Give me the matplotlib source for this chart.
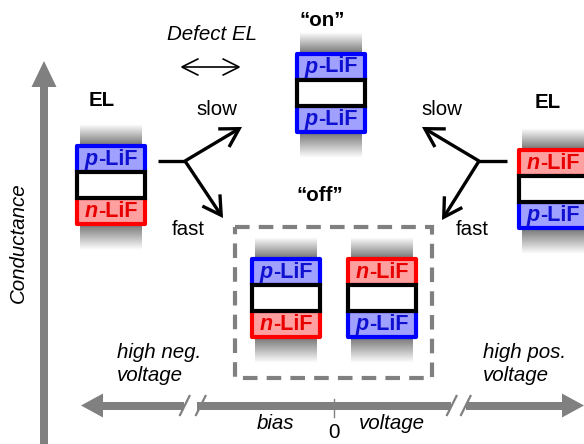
import numpy as np
import matplotlib
matplotlib.use('Agg')
import matplotlib.pyplot as plt
from matplotlib.patches import Rectangle, Polygon, FancyArrowPatch

plt.rcParams['font.family'] = ['Liberation Sans', 'DejaVu Sans']

# labels / layer types
top_layers = ['p', 'p', 'p', 'n', 'n']      # EL左, on, off左, off右, EL右
bottom_layers = ['n', 'p', 'n', 'p', 'p']
state_labels = ['\u201con\u201d', '\u201coff\u201d']
el_label = 'EL'
branch_labels = ['slow', 'fast']
defect_label = 'Defect EL'
side_labels = ['high neg.', 'voltage', 'high pos.', 'voltage']
bias_labels = ['bias', '0', 'voltage']
y_label = 'Conductance'

# layout (pixel coordinates)
device_xy = [(75, 144), (295, 52), (250, 257), (346, 257), (517, 148)]
W, H = 72, 82
styles = {
    'p': dict(edge='#0000ff', face='#a0a0ff', text='#1010d0'),
    'n': dict(edge='#ff0000', face='#ffa0a0', text='#e80000'),
}
gray = '#808080'
FS = 14.8

fig = plt.figure(figsize=(5.84, 4.44), dpi=100)
ax = fig.add_axes([0, 0, 1, 1])
ax.set_xlim(0, 584)
ax.set_ylim(444, 0)
ax.axis('off')
renderer = fig.canvas.get_renderer()


def gradient(x0, x1, y0, y1, fade_up):
    a = np.linspace(0, 0.95, 40)
    if not fade_up:
        a = a[::-1]
    img = np.zeros((40, 1, 4))
    img[..., :3] = 0.47
    img[:, 0, 3] = a
    ax.imshow(img, extent=(x0, x1, y1, y0), origin='upper', aspect='auto',
              interpolation='bilinear', zorder=1)


def layer_label(xc, yc, kind):
    st = styles[kind]
    t1 = ax.text(0, 0, kind, fontsize=15.5, fontweight='bold', fontstyle='italic',
                 color=st['text'], ha='left', va='center', zorder=5)
    t2 = ax.text(0, 0, '-LiF', fontsize=15.5, fontweight='bold',
                 color=st['text'], ha='left', va='center', zorder=5)
    w1 = t1.get_window_extent(renderer).width
    w2 = t2.get_window_extent(renderer).width
    x = xc - (w1 + w2) / 2
    t1.set_position((x, yc))
    t2.set_position((x + w1, yc))


def device(x, y, top, bot):
    gradient(x + 5, x + W - 5, y - 20, y, True)
    gradient(x + 5, x + W - 5, y + H, y + H + 24, False)
    px, py, pw = x + 2, y + 2, W - 4
    lh = (H - 4) / 3
    for kind, yy in [(top, py), (bot, py + 2 * lh)]:
        st = styles[kind]
        ax.add_patch(Rectangle((px, yy), pw, lh, facecolor=st['face'],
                               edgecolor=st['edge'], lw=3, joinstyle='round', zorder=3))
    ax.add_patch(Rectangle((px, py + lh), pw, lh, facecolor='white',
                           edgecolor='black', lw=3, zorder=4))
    layer_label(x + W / 2, py + lh / 2, top)
    layer_label(x + W / 2, py + 2.5 * lh, bot)


for (x, y), t, b in zip(device_xy, top_layers, bottom_layers):
    device(x, y, t, b)

# off の破線枠
ax.add_patch(Rectangle((235, 227), 197, 151, fill=False, edgecolor=gray,
                       lw=3, linestyle=(0, (3.5, 2.2)), zorder=2))

# 分岐矢印
def arrow(p0, p1, style, lw, ms=20):
    ax.add_patch(FancyArrowPatch(p0, p1, arrowstyle=style, mutation_scale=ms,
                                 lw=lw, color='black', shrinkA=0, shrinkB=0,
                                 joinstyle='miter', capstyle='butt', zorder=6))

head = '->,head_length=0.65,head_width=0.38'
ax.plot([158, 186], [161, 161], color='black', lw=2.4, solid_capstyle='butt')
arrow((185, 161), (242, 127), head, 2.4)
arrow((185, 161), (223, 218), head, 2.4)
ax.plot([507, 478], [161, 161], color='black', lw=2.4, solid_capstyle='butt')
arrow((479, 161), (422, 127), head, 2.4)
arrow((479, 161), (442, 220), head, 2.4)

# Defect EL
arrow((180, 67), (241, 67), '<->,head_length=0.6,head_width=0.3', 1.2)
ax.text(212, 34, defect_label, fontsize=FS, fontstyle='italic', ha='center', va='center')

# テキスト
ax.text(102, 100, el_label, fontsize=FS, fontweight='bold', ha='center', va='center')
ax.text(548, 102, el_label, fontsize=FS, fontweight='bold', ha='center', va='center')
ax.text(322, 20, state_labels[0], fontsize=FS, fontweight='bold', ha='center', va='center')
ax.text(320, 195, state_labels[1], fontsize=FS, fontweight='bold', ha='center', va='center')
ax.text(217, 109, branch_labels[0], fontsize=FS, ha='center', va='center')
ax.text(188, 229, branch_labels[1], fontsize=FS, ha='center', va='center')
ax.text(442, 109, branch_labels[0], fontsize=FS, ha='center', va='center')
ax.text(472, 229, branch_labels[1], fontsize=FS, ha='center', va='center')
ax.text(117, 352, side_labels[0], fontsize=FS, fontstyle='italic', ha='left', va='center')
ax.text(117, 375, side_labels[1], fontsize=FS, fontstyle='italic', ha='left', va='center')
ax.text(483, 352, side_labels[2], fontsize=FS, fontstyle='italic', ha='left', va='center')
ax.text(483, 375, side_labels[3], fontsize=FS, fontstyle='italic', ha='left', va='center')
ax.text(275, 423, bias_labels[0], fontsize=FS, fontstyle='italic', ha='center', va='center')
ax.text(334, 432, bias_labels[1], fontsize=FS, ha='center', va='center')
ax.text(392, 423, bias_labels[2], fontsize=FS, fontstyle='italic', ha='center', va='center')
ax.text(18, 243, y_label, fontsize=FS, fontstyle='italic', rotation=90, ha='center', va='center')

# 縦軸 (Conductance)
ax.add_patch(Polygon([(40, 444), (40, 87), (31.5, 87), (44, 61), (56.5, 87),
                      (48, 87), (48, 444)], closed=True, facecolor=gray, edgecolor='none'))

# 横軸 (bias voltage)
ys0, ys1 = 401.5, 409.5
for x0, x1 in [(102, 184), (197, 451), (466, 563)]:
    ax.add_patch(Rectangle((x0, ys0), x1 - x0, ys1 - ys0, facecolor=gray, edgecolor='none'))
ax.add_patch(Polygon([(103, 393.5), (103, 417.5), (81, 405.5)], facecolor=gray, edgecolor='none'))
ax.add_patch(Polygon([(562, 393.5), (562, 417.5), (584, 405.5)], facecolor=gray, edgecolor='none'))
for x0 in [180, 196, 447, 461]:
    ax.plot([x0, x0 + 9.5], [415, 396], color=gray, lw=1.6)
ax.plot([334, 334], [399, 417], color=gray, lw=1)

fig.savefig('out.png', dpi=100)
